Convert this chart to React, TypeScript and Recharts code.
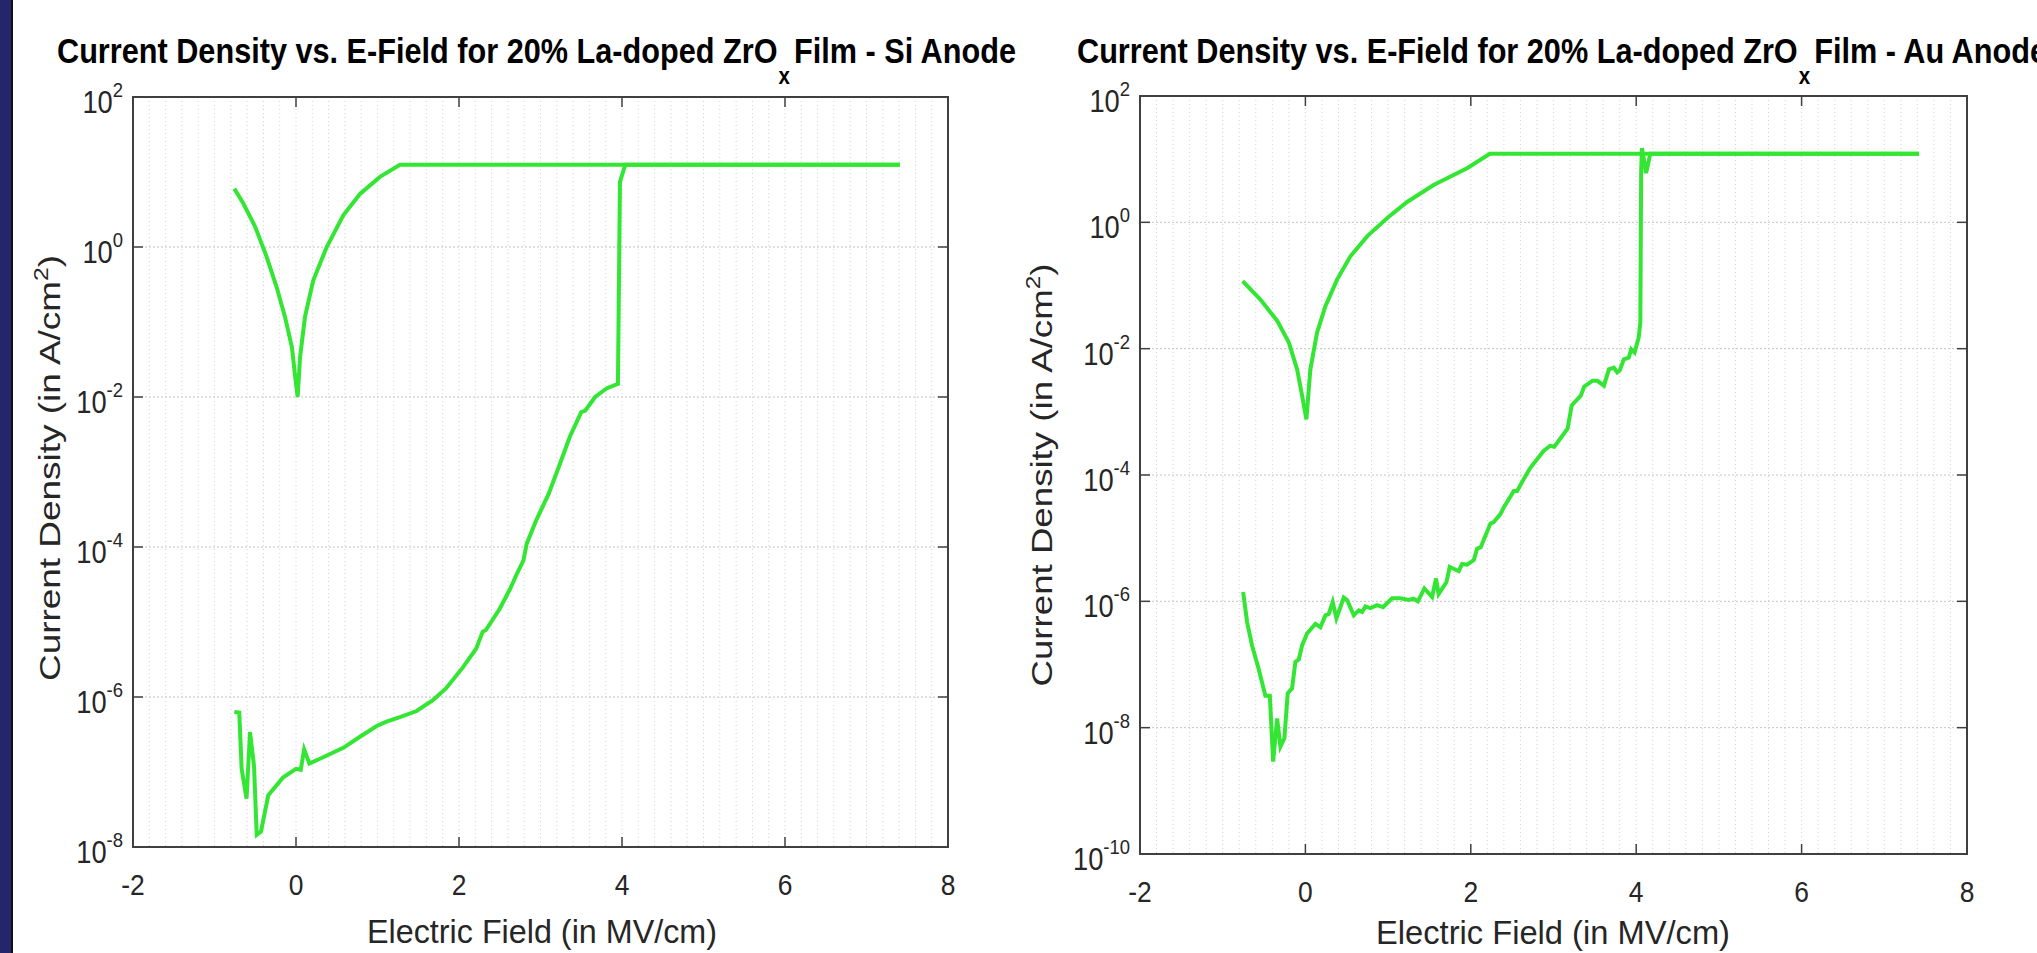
import { LineChart, Line, XAxis, YAxis, CartesianGrid, ReferenceArea } from 'recharts';

const GREEN = '#33e633';
const AXIS = '#404040';
const TEXT = '#262626';
const FONT = '"Liberation Sans", Arial, Helvetica, sans-serif';

// x axis (electric field, MV/cm)
const fieldTicks = [-2, 0, 2, 4, 6, 8];
const fieldMinorStep = 0.2;

// y axis decades (A/cm^2)
const siDecades = [1e-8, 1e-6, 1e-4, 1e-2, 1, 100];
const auDecades = [1e-10, 1e-8, 1e-6, 1e-4, 1e-2, 1, 100];

// Si anode - sweep up
const siUpField = [-0.757, -0.696, -0.667, -0.607, -0.564, -0.515, -0.482, -0.43, -0.34, -0.156, 0.0, 0.058, 0.1, 0.164, 0.294, 0.58, 0.785, 0.99, 1.11, 1.276, 1.48, 1.68, 1.84, 2.05, 2.21, 2.29, 2.33, 2.5, 2.63, 2.71, 2.79, 2.83, 2.95, 3.1, 3.24, 3.36, 3.5, 3.55, 3.67, 3.81, 3.95, 3.975, 4.04, 7.41];
const siUpJ = [6.3e-7, 6.2e-7, 1.1e-7, 4.4e-8, 3.4e-7, 1.2e-7, 1.45e-8, 1.6e-8, 4.9e-8, 8.5e-8, 1.1e-7, 1.07e-7, 2.0e-7, 1.3e-7, 1.5e-7, 2.1e-7, 2.95e-7, 4.1e-7, 4.7e-7, 5.4e-7, 6.5e-7, 9.1e-7, 1.3e-6, 2.5e-6, 4.4e-6, 7.4e-6, 7.8e-6, 1.5e-5, 2.8e-5, 4.4e-5, 6.6e-5, 1.1e-4, 2.3e-4, 5.1e-4, 1.3e-3, 2.95e-3, 6.3e-3, 6.6e-3, 1.0e-2, 1.3e-2, 1.5e-2, 7.4, 12.5, 12.5];

// Si anode - sweep down
const siDownField = [7.41, 1.276, 1.03, 0.785, 0.58, 0.377, 0.212, 0.11, 0.05, 0.02, -0.01, -0.05, -0.135, -0.237, -0.36, -0.5, -0.646, -0.757];
const siDownJ = [12.5, 12.5, 8.6, 5.1, 2.65, 1.0, 0.36, 0.117, 0.034, 0.01, 0.0186, 0.046, 0.117, 0.29, 0.74, 1.85, 3.8, 6.0];

// Au anode - sweep up
const auUpField = [-0.753, -0.705, -0.645, -0.565, -0.484, -0.43, -0.39, -0.342, -0.302, -0.254, -0.214, -0.161, -0.121, -0.08, -0.04, 0.02, 0.121, 0.181, 0.242, 0.282, 0.33, 0.375, 0.464, 0.504, 0.585, 0.645, 0.685, 0.725, 0.786, 0.867, 0.939, 1.048, 1.149, 1.25, 1.31, 1.36, 1.439, 1.532, 1.58, 1.61, 1.705, 1.745, 1.854, 1.895, 1.955, 2.036, 2.076, 2.12, 2.237, 2.277, 2.358, 2.4, 2.52, 2.56, 2.64, 2.72, 2.88, 2.96, 3.01, 3.17, 3.22, 3.33, 3.37, 3.47, 3.53, 3.61, 3.67, 3.73, 3.77, 3.8, 3.85, 3.91, 3.94, 3.98, 4.03, 4.05, 4.06, 4.07, 4.12, 4.17, 7.42];
const auUpJ = [1.4e-6, 4.7e-7, 2.0e-7, 8.5e-8, 3.2e-8, 3.2e-8, 2.9e-9, 1.4e-8, 5.0e-9, 6.8e-9, 3.5e-8, 4.2e-8, 1.1e-7, 1.2e-7, 2.0e-7, 3.1e-7, 4.4e-7, 3.9e-7, 6.0e-7, 6.3e-7, 9.8e-7, 5.4e-7, 1.15e-6, 1.05e-6, 6.0e-7, 7.2e-7, 6.8e-7, 8.3e-7, 7.8e-7, 8.7e-7, 8.1e-7, 1.12e-6, 1.12e-6, 1.05e-6, 1.1e-6, 1.0e-6, 1.6e-6, 1.17e-6, 2.3e-6, 1.3e-6, 2.0e-6, 3.5e-6, 3.0e-6, 3.9e-6, 3.8e-6, 4.5e-6, 6.8e-6, 7.2e-6, 1.7e-5, 1.8e-5, 2.4e-5, 3.1e-5, 5.6e-5, 5.6e-5, 8.6e-5, 1.3e-4, 2.4e-4, 2.9e-4, 2.8e-4, 5.4e-4, 1.26e-3, 1.8e-3, 2.5e-3, 3.1e-3, 3.1e-3, 2.6e-3, 4.7e-3, 5.0e-3, 4.2e-3, 4.5e-3, 6.8e-3, 7.2e-3, 9.8e-3, 8.7e-3, 1.5e-2, 2.6e-2, 6.8, 15, 6.0, 12.2, 12.2];

// Au anode - sweep down
const auDownField = [7.42, 2.23, 1.955, 1.55, 1.23, 0.99, 0.746, 0.544, 0.383, 0.242, 0.141, 0.06, 0.012, -0.04, -0.1, -0.2, -0.34, -0.544, -0.758];
const auDownJ = [12.2, 12.2, 7.2, 3.9, 2.1, 1.17, 0.6, 0.29, 0.124, 0.047, 0.018, 0.0047, 7.6e-4, 1.8e-3, 4.7e-3, 0.0125, 0.0275, 0.06, 0.117];

const toPoints = (xs: number[], ys: number[]) => xs.map((x, i) => ({ x, y: ys[i] }));

const fieldGrid: number[] = [];
for (let i = 0; i <= Math.round((fieldTicks[fieldTicks.length - 1] - fieldTicks[0]) / fieldMinorStep); i++) {
    fieldGrid.push(Math.round((fieldTicks[0] + i * fieldMinorStep) * 10) / 10);
}

function FieldTick(props: any) {
    const { x, y, payload, plotH } = props;
    const v = payload.value;
    if (!fieldTicks.includes(v)) return <g />;
    return (
        <g>
            <line x1={x} x2={x} y1={y} y2={y - 10} stroke={AXIS} strokeWidth={1.5} />
            <line x1={x} x2={x} y1={y - plotH} y2={y - plotH + 10} stroke={AXIS} strokeWidth={1.5} />
            <text transform={`translate(${x},${y + 48}) scale(0.88,1)`} textAnchor="middle" fontSize={30} fill={TEXT} fontFamily={FONT}>
                {String(v)}
            </text>
        </g>
    );
}

function DecadeTick(props: any) {
    const { x, y, payload, plotW } = props;
    const exp = Math.round(Math.log10(payload.value));
    return (
        <g>
            <line x1={x} x2={x + 10} y1={y} y2={y} stroke={AXIS} strokeWidth={1.5} />
            <line x1={x + plotW} x2={x + plotW - 10} y1={y} y2={y} stroke={AXIS} strokeWidth={1.5} />
            <text transform={`translate(${x - 10},${y + 16}) scale(0.88,1)`} textAnchor="end" fontSize={31} fill={TEXT} fontFamily={FONT}>
                10<tspan fontSize={21} dy={-16}>{exp}</tspan>
            </text>
        </g>
    );
}

interface PanelProps {
    left: number;
    width: number;
    margin: { top: number; right: number; bottom: number; left: number };
    plotW: number;
    plotH: number;
    decades: number[];
    up: { x: number; y: number }[];
    down: { x: number; y: number }[];
}

function Panel({ left, width, margin, plotW, plotH, decades, up, down }: PanelProps) {
    const yDomain = [decades[0], decades[decades.length - 1]];
    return (
        <div style={{ position: 'absolute', left, top: 0 }}>
            <LineChart width={width} height={953} margin={margin}>
                <CartesianGrid horizontal={false} stroke="#d2d2d2" strokeDasharray="1 3" />
                <CartesianGrid vertical={false} stroke="#c4c4c4" strokeDasharray="2 2" />
                <XAxis
                    dataKey="x"
                    type="number"
                    domain={[fieldTicks[0], fieldTicks[fieldTicks.length - 1]]}
                    ticks={fieldGrid}
                    interval={0}
                    allowDataOverflow
                    height={60}
                    axisLine={false}
                    tickLine={false}
                    tickSize={0}
                    tickMargin={0}
                    tick={(p: any) => <FieldTick {...p} plotH={plotH} />}
                />
                <YAxis
                    dataKey="y"
                    type="number"
                    scale="log"
                    domain={yDomain}
                    ticks={decades}
                    interval={0}
                    allowDataOverflow
                    width={120}
                    axisLine={false}
                    tickLine={false}
                    tickSize={0}
                    tickMargin={0}
                    tick={(p: any) => <DecadeTick {...p} plotW={plotW} />}
                />
                <ReferenceArea x1={fieldTicks[0]} x2={fieldTicks[fieldTicks.length - 1]} y1={yDomain[0]} y2={yDomain[1]} fill="none" fillOpacity={0} stroke={AXIS} strokeWidth={2} />
                <Line data={up} dataKey="y" type="linear" stroke={GREEN} strokeWidth={4} dot={false} isAnimationActive={false} />
                <Line data={down} dataKey="y" type="linear" stroke={GREEN} strokeWidth={4} dot={false} isAnimationActive={false} />
            </LineChart>
        </div>
    );
}

function Title({ x, anode, length }: { x: number; anode: string; length: number }) {
    return (
        <text transform={`translate(${x},63) scale(1,1.15)`} x={0} y={0} textLength={length} lengthAdjust="spacingAndGlyphs" fontSize={30} fontWeight="bold" fill="#000" fontFamily={FONT}>
            Current Density vs. E-Field for 20% La-doped ZrO<tspan fontSize={20} dy={18} dx={1}>x</tspan>
            <tspan dy={-18} dx={4}>{`Film - ${anode} Anode`}</tspan>
        </text>
    );
}

function YLabel({ x, y, length }: { x: number; y: number; length: number }) {
    return (
        <text transform={`translate(${x},${y}) rotate(-90)`} textAnchor="middle" textLength={length} lengthAdjust="spacingAndGlyphs" fontSize={30} fill={TEXT} fontFamily={FONT}>
            Current Density (in A/cm<tspan fontSize={20} dy={-12}>2</tspan>
            <tspan dy={12}>)</tspan>
        </text>
    );
}

function XLabel({ x, y, length }: { x: number; y: number; length: number }) {
    return (
        <text x={x} y={y} textAnchor="middle" textLength={length} lengthAdjust="spacingAndGlyphs" fontSize={34} fill={TEXT} fontFamily={FONT}>
            Electric Field (in MV/cm)
        </text>
    );
}

export default function App() {
    return (
        <div style={{ position: 'fixed', left: 0, top: 0, width: 2037, height: 953, background: '#fff', overflow: 'hidden', fontFamily: FONT }}>
            <Panel
                left={0}
                width={1000}
                margin={{ top: 97, right: 52, bottom: 46, left: 13 }}
                plotW={815}
                plotH={750}
                decades={siDecades}
                up={toPoints(siUpField, siUpJ)}
                down={toPoints(siDownField, siDownJ)}
            />
            <Panel
                left={1010}
                width={1027}
                margin={{ top: 96, right: 70, bottom: 39, left: 10 }}
                plotW={827}
                plotH={758}
                decades={auDecades}
                up={toPoints(auUpField, auUpJ)}
                down={toPoints(auDownField, auDownJ)}
            />
            <svg width={2037} height={953} style={{ position: 'absolute', left: 0, top: 0, pointerEvents: 'none' }}>
                <rect x={0} y={0} width={11} height={953} fill="#25256e" />
                <rect x={11} y={0} width={2} height={953} fill="#111" />
                <Title x={57} anode="Si" length={959} />
                <Title x={1077} anode="Au" length={970} />
                <YLabel x={60} y={468} length={426} />
                <YLabel x={1052} y={475} length={423} />
                <XLabel x={542} y={943} length={350} />
                <XLabel x={1553} y={944} length={354} />
            </svg>
        </div>
    );
}
